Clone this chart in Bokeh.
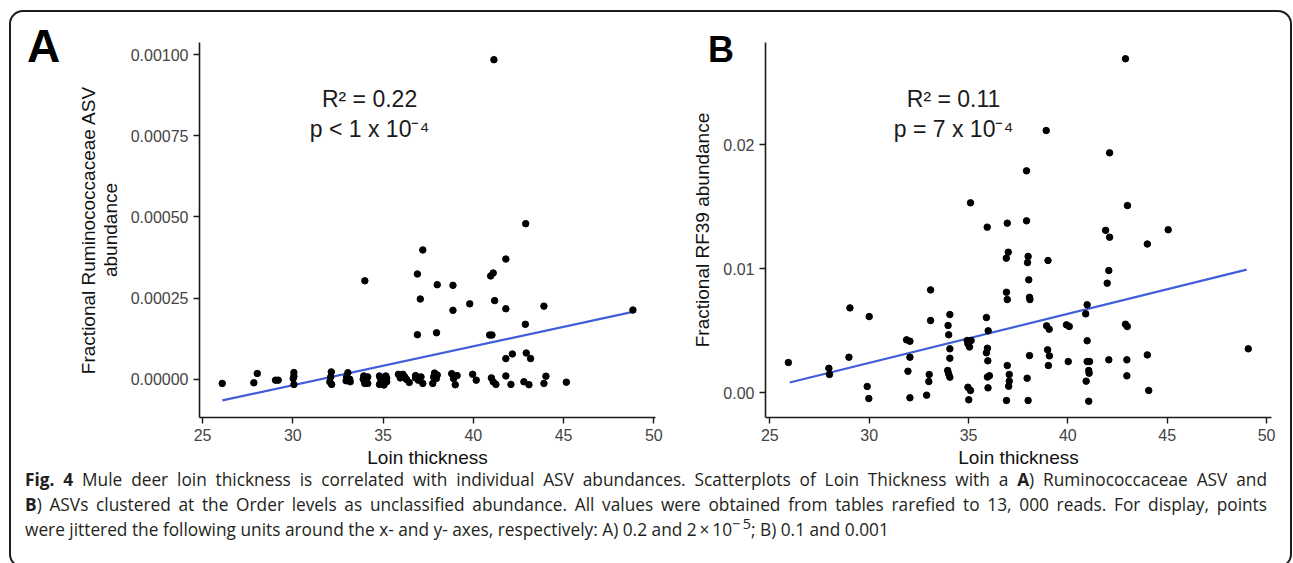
from bokeh.plotting import figure
from bokeh.layouts import column, row
from bokeh.models import Div, Label, Range1d, FixedTicker, NumeralTickFormatter, InlineStyleSheet
from bokeh.embed import file_html
from bokeh.resources import INLINE

# ---------------- data ----------------
# Panel A: Ruminococcaceae ASV fractional abundance vs loin thickness (jittered)
a_loin = [26.09, 27.84, 28.03, 29.04, 29.19, 30.06, 30.06, 30.02, 30.06,
          32.13, 32.10, 32.05, 32.15, 33.05, 32.98, 33.15, 32.95, 33.18,
          33.93, 34.15, 33.90, 34.05, 33.98, 34.15,
          34.80, 35.15, 34.85, 35.20, 34.90, 35.20, 34.80, 35.05,
          35.85, 36.10, 36.20, 35.95, 36.30, 36.45,
          36.80, 37.10, 36.95, 37.20, 36.80,
          37.85, 38.00, 37.80, 37.95, 37.75,
          38.80, 39.10, 38.90, 39.00,
          39.96, 40.16, 41.00, 41.10, 41.25, 41.80, 42.08, 42.80, 43.08,
          43.91, 44.02, 45.15,
          37.20, 41.80, 33.99, 36.90, 41.10, 40.96, 38.00, 38.87, 37.06,
          41.18, 39.80, 38.87, 41.80, 43.91, 48.84, 42.88, 36.90, 37.96,
          40.90, 41.03, 41.80, 42.16, 42.93, 43.17, 41.14, 42.90]
a_abund = [-0.000013, -0.000011, 0.0000175, -0.000003, -0.000003, 0.0000205, 0.0000092, 0.000002, -0.0000163,
           0.0000224, 0.000007, -0.000008, -0.000016, 0.00002, 0.000007, 0.0, -0.000005, -0.000008,
           0.00001, 0.000007, 0.0, -0.000008, -0.000013, -0.000013,
           0.00001, 0.00001, 0.000003, 0.000003, -0.000008, -0.000008, -0.000016, -0.000018,
           0.000015, 0.000015, 0.000007, 0.000004, -0.000001, -0.00001,
           0.000011, 0.000007, -0.000003, -0.000013, 0.000004,
           0.000019, 0.000013, 0.000007, 0.000002, -0.000013,
           0.000017, 0.000011, 0.000002, -0.000017,
           0.000015, -0.000003, 0.000004, -0.000008, -0.000016, 0.00001, -0.000016, -0.000008, -0.000017,
           -0.000013, 0.0000092, -0.0000092,
           0.000398, 0.00037, 0.000303, 0.000324, 0.000327, 0.000318, 0.000291, 0.000289, 0.000247,
           0.000242, 0.000232, 0.000212, 0.000217, 0.000225, 0.000213, 0.000169, 0.000137, 0.000143,
           0.000136, 0.000136, 0.0000634, 0.0000776, 0.0000807, 0.0000634, 0.000984, 0.000479]
a_fit_x = [26.1, 48.9]
a_fit_y = [-0.0000654, 0.000208]
a_stats = ["R\u00b2 = 0.22", "p < 1 x 10\u207b\u2074"]

# Panel B: RF39 fractional abundance vs loin thickness (jittered)
b_loin = [25.93, 27.97, 28.00, 28.98, 29.03, 30.00, 29.90, 29.98,
          31.88, 32.05, 32.05, 31.95, 32.05, 33.09, 33.09, 33.02, 33.00, 32.89,
          34.06, 33.97, 34.00, 34.06, 34.06, 33.95, 34.00, 34.06,
          34.93, 35.13, 34.97, 35.05, 34.97, 35.10, 35.01, 35.10,
          35.94, 35.90, 35.99, 35.95, 35.90, 35.97, 35.95, 36.05, 35.98,
          36.95, 37.00, 36.90, 36.91, 36.95, 36.95, 37.05, 37.05, 37.02, 36.91,
          37.92, 37.92, 38.00, 37.97, 38.03, 38.07, 38.09, 38.07, 37.95, 38.00,
          38.91, 39.00, 38.93, 39.06, 38.98, 39.07, 39.02,
          39.93, 40.07, 40.02,
          40.97, 40.90, 40.97, 40.97, 41.09, 41.05, 41.07, 40.92, 41.05,
          41.90, 42.10, 42.10, 42.06, 41.98, 42.06,
          42.90, 43.00, 42.90, 42.99, 42.97, 42.97,
          44.00, 44.00, 44.07, 45.05, 49.08]
b_abund = [0.00244, 0.00198, 0.00148, 0.00287, 0.00685, 0.00615, 0.00051, -0.00046,
           0.00427, 0.00416, 0.00287, 0.00174, -0.0004, 0.0083, 0.00583, 0.00148, 0.00091, -0.00019,
           0.00631, 0.00543, 0.00468, 0.00355, 0.00279, 0.0018, 0.00153, 0.00126,
           0.00422, 0.00422, 0.00395, 0.0037, 0.00045, 0.00019, -0.00056, 0.01532,
           0.01336, 0.00607, 0.005, 0.0036, 0.00323, 0.00258, 0.00127, 0.00138, 0.0004,
           0.01368, 0.01134, 0.01086, 0.00811, 0.00752, 0.0022, 0.00148, 0.00094, 0.00053, -0.00062,
           0.0179, 0.01387, 0.011, 0.0105, 0.00911, 0.0077, 0.00752, 0.003, 0.00118, -0.00062,
           0.02115, 0.01067, 0.0054, 0.00513, 0.00347, 0.00298, 0.0022,
           0.00548, 0.00535, 0.00252,
           0.0071, 0.00637, 0.0042, 0.00252, 0.00252, 0.0018, 0.00158, 0.00094, -0.00068,
           0.0131, 0.01255, 0.01935, 0.00986, 0.00884, 0.00266,
           0.02694, 0.0151, 0.00553, 0.00535, 0.00266, 0.00137,
           0.012, 0.00306, 0.00019, 0.01315, 0.00355]
b_fit_x = [26.0, 49.0]
b_fit_y = [0.00083, 0.00994]
b_stats = ["R\u00b2 = 0.11", "p = 7 x 10\u207b\u2074"]

x_ticks = [25, 30, 35, 40, 45, 50]
a_y_ticks = [0.0, 0.00025, 0.0005, 0.00075, 0.001]
b_y_ticks = [0.0, 0.01, 0.02]

panel_letters = ["A", "B"]
caption_lines = [
    "<b>Fig. 4</b> Mule deer loin thickness is correlated with individual ASV abundances. Scatterplots of Loin Thickness with a <b>A</b>) Ruminococcaceae ASV and",
    "<b>B</b>) ASVs clustered at the Order levels as unclassified abundance. All values were obtained from tables rarefied to 13, 000 reads. For display, points",
    "were jittered the following units around the x- and y- axes, respectively: A) 0.2 and 2\u2009\u00d7\u200910"
    "<sup style=\"line-height:0;\">\u2212\u20095</sup>; B) 0.1 and 0.001",
]

# ---------------- styling helpers ----------------
FONT = "Liberation Sans"
LINE_COL = "#3F5ED8"


def style(p):
    p.background_fill_color = "white"
    p.border_fill_color = None
    p.outline_line_color = None
    p.xgrid.visible = False
    p.ygrid.visible = False
    for ax in (p.xaxis[0], p.yaxis[0]):
        ax.axis_line_color = "#1a1a1a"
        ax.axis_line_width = 1.6
        ax.major_tick_line_color = "#1a1a1a"
        ax.major_tick_line_width = 1.4
        ax.major_tick_out = 6
        ax.major_tick_in = 0
        ax.minor_tick_line_color = None
        ax.major_label_text_font = FONT
        ax.major_label_text_font_size = "16px"
        ax.major_label_text_color = "#444444"
        ax.axis_label_text_font = FONT
        ax.axis_label_text_font_size = "19px"
        ax.axis_label_text_font_style = "normal"
        ax.axis_label_text_color = "#111111"
        ax.axis_label_text_line_height = 1.05
    p.xaxis[0].major_label_standoff = 5
    p.xaxis[0].axis_label_standoff = 3
    p.yaxis[0].major_label_standoff = 5
    p.yaxis[0].axis_label_standoff = 7


# ---------------- Panel A ----------------
pA = figure(width=680, height=470, output_backend="svg", toolbar_location=None,
            x_range=Range1d(24.83, 50.09), y_range=Range1d(-0.000118, 0.001037),
            min_border_left=199, min_border_right=25, min_border_top=42, min_border_bottom=53)
style(pA)
pA.xaxis[0].ticker = FixedTicker(ticks=x_ticks)
pA.yaxis[0].ticker = FixedTicker(ticks=a_y_ticks)
pA.yaxis[0].formatter = NumeralTickFormatter(format="0.00000")
pA.xaxis[0].axis_label = "Loin thickness"
pA.yaxis[0].axis_label = "Fractional Ruminococcaceae ASV\nabundance"
pA.line(a_fit_x, a_fit_y, line_color=LINE_COL, line_width=2.2)
pA.scatter(a_loin, a_abund, size=6.5, fill_color="black", line_color="black")
pA.add_layout(Label(x=34.25, y=0.000862, text=a_stats[0], text_align="center", text_baseline="alphabetic",
                    text_font=FONT, text_font_size="23px", text_color="#1a1a1a"))
pA.add_layout(Label(x=34.25, y=0.00077, text=a_stats[1], text_align="center", text_baseline="alphabetic",
                    text_font=FONT, text_font_size="23px", text_color="#1a1a1a"))

# ---------------- Panel B ----------------
pB = figure(width=613, height=470, output_backend="svg", toolbar_location=None,
            x_range=Range1d(24.78, 50.25), y_range=Range1d(-0.00199, 0.02825),
            min_border_left=85, min_border_right=22, min_border_top=42, min_border_bottom=53)
style(pB)
pB.xaxis[0].ticker = FixedTicker(ticks=x_ticks)
pB.yaxis[0].ticker = FixedTicker(ticks=b_y_ticks)
pB.yaxis[0].formatter = NumeralTickFormatter(format="0.00")
pB.xaxis[0].axis_label = "Loin thickness"
pB.yaxis[0].axis_label = "Fractional RF39 abundance"
pB.line(b_fit_x, b_fit_y, line_color=LINE_COL, line_width=2.2)
pB.scatter(b_loin, b_abund, size=6.5, fill_color="black", line_color="black")
pB.add_layout(Label(x=34.245, y=0.02373, text=b_stats[0], text_align="center", text_baseline="alphabetic",
                    text_font=FONT, text_font_size="23px", text_color="#1a1a1a"))
pB.add_layout(Label(x=34.245, y=0.02131, text=b_stats[1], text_align="center", text_baseline="alphabetic",
                    text_font=FONT, text_font_size="23px", text_color="#1a1a1a"))

# ---------------- caption (+ panel letters as positioned HTML) ----------------
letter_style = "position:absolute;font-family:'Liberation Sans';font-weight:bold;color:black;"
just = "text-align:justify;text-align-last:justify;white-space:nowrap;"
cap_html = (
    f'<span style="{letter_style}left:27px;top:-447px;font-size:46px;line-height:46px;">{panel_letters[0]}</span>'
    f'<span style="{letter_style}left:708px;top:-438px;font-size:36px;line-height:36px;">{panel_letters[1]}</span>'
    '<div style="width:1242px;margin:-3px 0 0 25px;font-family:\'Open Sans\';'
    'font-size:17.3px;line-height:25px;color:#231f20;">'
    f'<div style="{just}">{caption_lines[0]}</div>'
    f'<div style="{just}">{caption_lines[1]}</div>'
    f'<div style="white-space:nowrap;">{caption_lines[2]}</div>'
    '</div>'
)
cap = Div(text=cap_html, width=1293, height=93, margin=0,
          styles={"position": "relative", "overflow": "visible"})

border_css = InlineStyleSheet(css="""
:host { position: relative; }
:host::after {
  content: ""; position: absolute; left: 9px; top: 10px; width: 1283px; height: 558px;
  border: 2px solid #1e1e1e; border-radius: 14px; box-sizing: border-box; pointer-events: none;
}
""")

layout = column(row(pA, pB, margin=0), cap, margin=0, stylesheets=[border_css])

open("out.html", "w").write(file_html(layout, INLINE))
